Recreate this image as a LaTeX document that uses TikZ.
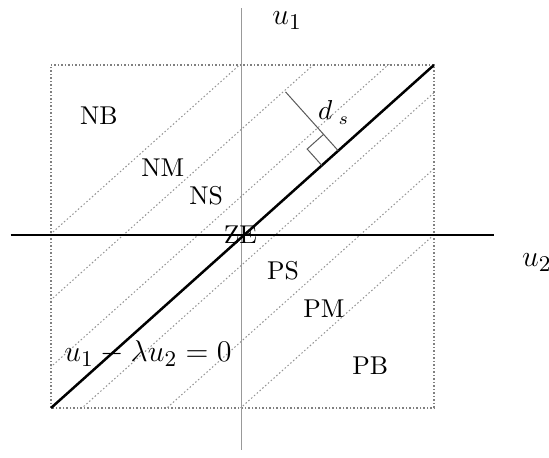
\documentclass[tikz,border=0pt]{standalone}
\usepackage{amsmath}
\usetikzlibrary{calc}

\begin{document}
\begin{tikzpicture}[
      x=0.4pt, y=0.4pt,
      axis/.style={line width=0.5pt},
      border/.style={gray, line width=0.45pt, dash pattern=on 0.6pt off 0.8pt},
      level/.style={gray!85, line width=0.4pt, dash pattern=on 0.6pt off 0.9pt},
      surface/.style={line width=1pt},
      region/.style={font=\fontsize{10.3}{12}\selectfont},
      mathlabel/.style={font=\fontsize{12.5}{15}\selectfont, inner sep=0pt},
    ]
    \useasboundingbox (-241.7,-223) rectangle (307.3,235);

    % --- box corners ---
    \coordinate (sw) at (-190.7,-173);
    \coordinate (ne) at (192.3,170);

    % --- dotted region borders ---
    \begin{scope}
      \clip (sw) rectangle (ne);
      \foreach \c in {172, 106, 39, -30, -106, -172} {
        \draw[level] (-200, -200*0.8956 + \c) -- (200, 200*0.8956 + \c);
      }
    \end{scope}
    \draw[border] (sw) rectangle (ne);

    % --- axes ---
    \draw[axis, gray!80] (0,-215) -- (0,227);
    \draw[axis] (-231,0) -- (252.3,0);
    \node[mathlabel, anchor=base west] (u1) at (30.3,210) {$u_1$};
    \node[mathlabel, anchor=base west] (u2) at (280,-31.7) {$u_2$};

    % --- switching line ---
    \draw[surface] (sw) -- (ne);

    % --- distance d_s ---
    \coordinate (foot) at ($(sw)!0.75!(ne)$);
    \coordinate (ds) at ($(foot)!31.6pt!90:(ne)$);
    \draw[gray!70!black, line width=0.4pt] (foot) -- (ds);
    \coordinate (ra1) at ($(foot)!8.8pt!(sw)$);
    \coordinate (ra2) at ($(foot)!8.8pt!(ds)$);
    \draw[gray!70!black, line width=0.4pt] (ra1) -- ($(ra1)+(ra2)-(foot)$) -- (ra2);
    \node[font=\fontsize{10.5}{12}\selectfont, inner sep=0pt, anchor=base west]
      (dsl) at (76,115) {$d_{\hspace{2.5pt}s}$};

    % --- regions ---
    \node[region] (nb) at (-142.8,119.2) {NB};
    \node[region] (nm) at (-78.9,67) {NM};
    \node[region] (ns) at (-35.5,39.2) {NS};
    \node[region] (ze) at (-1.3,0) {ZE};
    \node[region] (ps) at (41.4,-35.8) {PS};
    \node[region] (pm) at (82.2,-73.3) {PM};
    \node[region] (pb) at (128.6,-130.8) {PB};

    \node[mathlabel, anchor=base] (eq) at (-93.7,-126.7) {$u_1-\lambda u_2=0$};

  \end{tikzpicture}
\end{document}
